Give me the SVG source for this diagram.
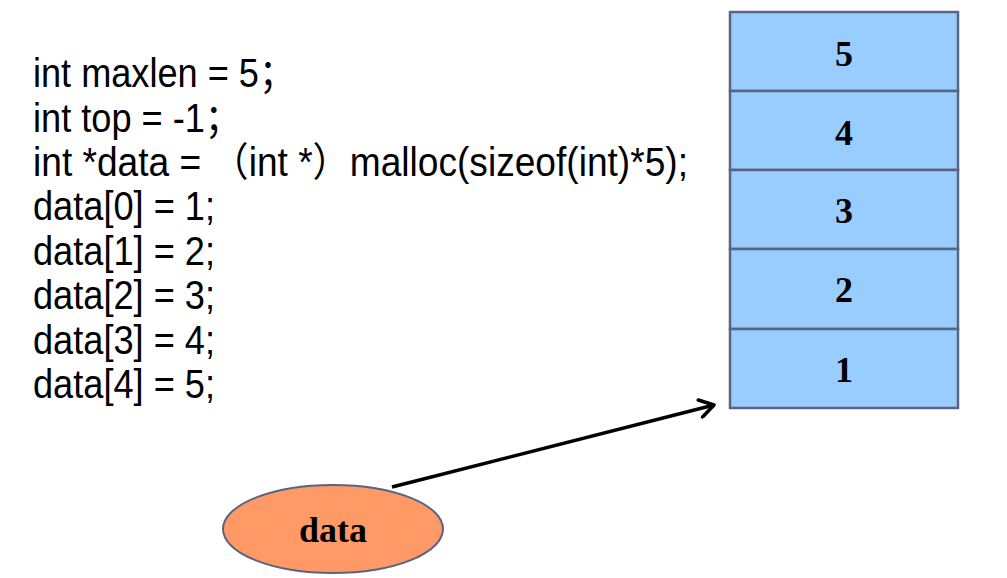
<svg xmlns="http://www.w3.org/2000/svg" width="1007" height="578" viewBox="0 0 1007 578">
<style>
.code{font-family:"Liberation Sans","Noto Sans CJK SC",sans-serif;font-size:40px;fill:#000}
.cell{fill:#99ccff;stroke:#5a6482;stroke-width:2.5}
.num{font-family:"Liberation Serif",serif;font-weight:bold;font-size:36px;text-anchor:middle;fill:#000}
</style>
<defs>
<marker id="arr" viewBox="0 0 12 12" refX="10" refY="6" markerWidth="6" markerHeight="6" orient="auto" markerUnits="strokeWidth">
<path d="M2,1 L10,6 L2,11" fill="none" stroke="#000" stroke-width="2" stroke-linecap="round" stroke-linejoin="round"/>
</marker>
</defs>
<rect width="1007" height="578" fill="#fff"/>
<g id="code">
<text class="code" x="33" y="87" textLength="262" lengthAdjust="spacingAndGlyphs">int maxlen = 5；</text>
<text class="code" x="33" y="132" textLength="208" lengthAdjust="spacingAndGlyphs">int top = -1；</text>
<text class="code" x="33" y="176" textLength="655" lengthAdjust="spacingAndGlyphs">int *data = （int *）malloc(sizeof(int)*5);</text>
<text class="code" x="33" y="220" textLength="182" lengthAdjust="spacingAndGlyphs">data[0] = 1;</text>
<text class="code" x="33" y="265" textLength="182" lengthAdjust="spacingAndGlyphs">data[1] = 2;</text>
<text class="code" x="33" y="309" textLength="182" lengthAdjust="spacingAndGlyphs">data[2] = 3;</text>
<text class="code" x="33" y="354" textLength="182" lengthAdjust="spacingAndGlyphs">data[3] = 4;</text>
<text class="code" x="33" y="398" textLength="182" lengthAdjust="spacingAndGlyphs">data[4] = 5;</text>
</g>
<g id="stack">
<g id="cell5"><rect class="cell" x="730" y="12" width="228" height="79"/><text class="num" x="844" y="66">5</text></g>
<g id="cell4"><rect class="cell" x="730" y="91" width="228" height="79"/><text class="num" x="844" y="145">4</text></g>
<g id="cell3"><rect class="cell" x="730" y="170" width="228" height="79"/><text class="num" x="844" y="223">3</text></g>
<g id="cell2"><rect class="cell" x="730" y="249" width="228" height="80"/><text class="num" x="844" y="302">2</text></g>
<g id="cell1"><rect class="cell" x="730" y="329" width="228" height="79"/><text class="num" x="844" y="382">1</text></g>
</g>
<g id="dataNode">
<ellipse cx="333" cy="529" rx="110" ry="44" fill="#ff9966" stroke="#5a6482" stroke-width="2"/>
<text class="num" x="333" y="542">data</text>
</g>
<g id="connectors">
<line x1="392" y1="487" x2="714" y2="405" stroke="#000" stroke-width="3.5" marker-end="url(#arr)"/>
</g>
</svg>
